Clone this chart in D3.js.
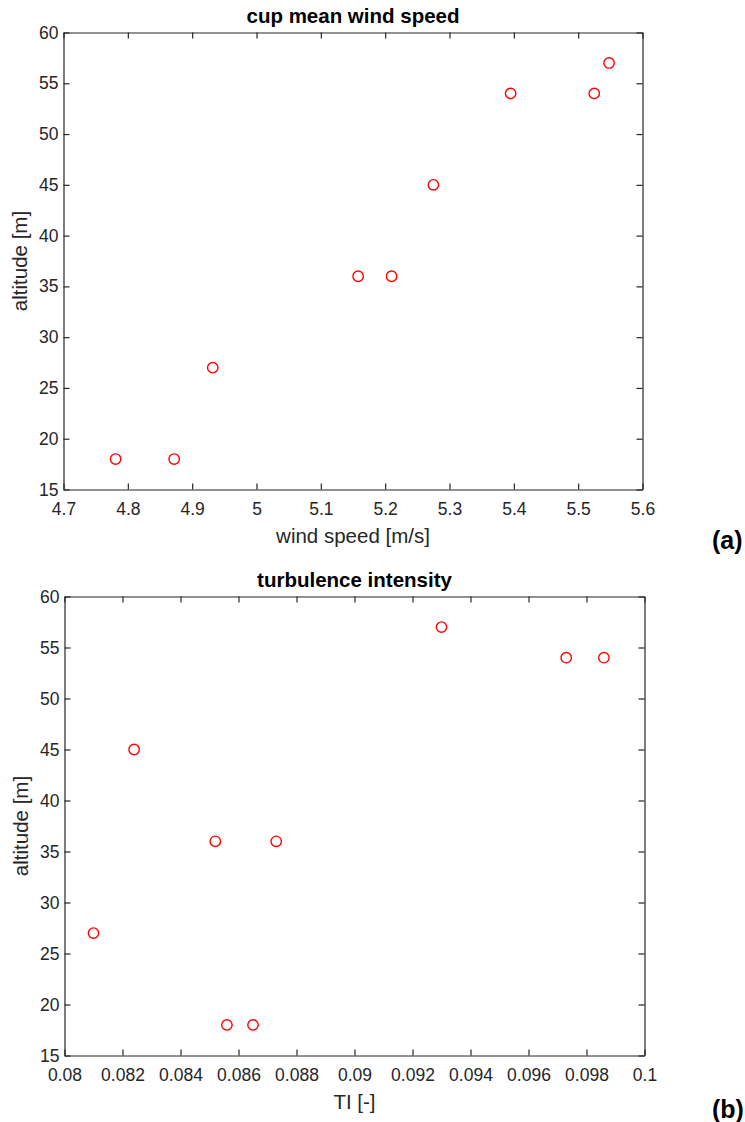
<!DOCTYPE html>
<html>
<head>
<meta charset="utf-8">
<script src="https://cdn.jsdelivr.net/npm/d3@7"></script>
<style>
  html, body { margin: 0; padding: 0; background: #fff; }
  svg { display: block; }
  text { font-family: "Liberation Sans", Arial, Helvetica, sans-serif; fill: #262626; }
</style>
</head>
<body>
<svg id="chart" width="745" height="1122"></svg>
<script>
// ---- data ----
const windSpeed = [4.781, 4.872, 4.932, 5.158, 5.210, 5.275, 5.395, 5.525, 5.548];
const altitudeA = [18, 18, 27, 36, 36, 45, 54, 54, 57];

const turbIntensity = [0.0810, 0.0824, 0.0852, 0.0873, 0.0856, 0.0865, 0.0930, 0.0973, 0.0986];
const altitudeB = [27, 45, 36, 36, 18, 18, 57, 54, 54];

const ticksWind = [4.7, 4.8, 4.9, 5, 5.1, 5.2, 5.3, 5.4, 5.5, 5.6];
const ticksWindLabels = ["4.7", "4.8", "4.9", "5", "5.1", "5.2", "5.3", "5.4", "5.5", "5.6"];
const ticksTI = [0.08, 0.082, 0.084, 0.086, 0.088, 0.09, 0.092, 0.094, 0.096, 0.098, 0.1];
const ticksTILabels = ["0.08", "0.082", "0.084", "0.086", "0.088", "0.09", "0.092", "0.094", "0.096", "0.098", "0.1"];
const ticksAlt = [15, 20, 25, 30, 35, 40, 45, 50, 55, 60];
const ticksAltLabels = ["15", "20", "25", "30", "35", "40", "45", "50", "55", "60"];

const panels = [
  {
    title: "cup mean wind speed", xlabel: "wind speed [m/s]", ylabel: "altitude [m]", tag: "(a)",
    xs: windSpeed, ys: altitudeA, xdom: [4.7, 5.6], ydom: [15, 60],
    xt: ticksWind, xtl: ticksWindLabels, yt: ticksAlt, ytl: ticksAltLabels,
    box: { left: 63.5, right: 642.5, top: 32.5, bottom: 489.5 }
  },
  {
    title: "turbulence intensity", xlabel: "TI [-]", ylabel: "altitude [m]", tag: "(b)",
    xs: turbIntensity, ys: altitudeB, xdom: [0.08, 0.1], ydom: [15, 60],
    xt: ticksTI, xtl: ticksTILabels, yt: ticksAlt, ytl: ticksAltLabels,
    box: { left: 64.5, right: 644.5, top: 596.5, bottom: 1055.5 }
  }
];

const svg = d3.select("#chart");
svg.append("rect").attr("width", 745).attr("height", 1122).attr("fill", "#fff");

const axisColor = "#262626";
const tickLen = 6;

panels.forEach(p => {
  const b = p.box;
  const x = d3.scaleLinear().domain(p.xdom).range([b.left, b.right]);
  const y = d3.scaleLinear().domain(p.ydom).range([b.bottom, b.top]);
  const g = svg.append("g");

  const xFmt = d => p.xtl[p.xt.indexOf(d)];
  const yFmt = d => p.ytl[p.yt.indexOf(d)];

  const ax = g.append("g").attr("transform", `translate(0,${b.bottom})`)
    .call(d3.axisBottom(x).tickValues(p.xt).tickFormat(xFmt).tickSizeInner(-tickLen).tickSizeOuter(0).tickPadding(13));
  const axT = g.append("g").attr("transform", `translate(0,${b.top})`)
    .call(d3.axisTop(x).tickValues(p.xt).tickFormat("").tickSizeInner(-tickLen).tickSizeOuter(0));
  const ay = g.append("g").attr("transform", `translate(${b.left},0)`)
    .call(d3.axisLeft(y).tickValues(p.yt).tickFormat(yFmt).tickSizeInner(-tickLen).tickSizeOuter(0).tickPadding(5));
  const ayR = g.append("g").attr("transform", `translate(${b.right},0)`)
    .call(d3.axisRight(y).tickValues(p.yt).tickFormat("").tickSizeInner(-tickLen).tickSizeOuter(0));

  [ax, axT, ay, ayR].forEach(a => {
    a.select(".domain").attr("stroke", axisColor).attr("stroke-width", 1.2);
    a.selectAll(".tick line").attr("stroke", axisColor).attr("stroke-width", 1.2);
    a.selectAll(".tick text").attr("fill", axisColor)
      .style("font-family", '"Liberation Sans", Arial, sans-serif').style("font-size", "17.5px");
  });

  g.append("g").selectAll("circle")
    .data(p.xs.map((v, i) => [v, p.ys[i]]))
    .join("circle")
    .attr("cx", d => x(d[0]))
    .attr("cy", d => y(d[1]))
    .attr("r", 5.2)
    .attr("fill", "none")
    .attr("stroke", "#ff0000")
    .attr("stroke-width", 1.4);

  const cx = (b.left + b.right) / 2;
  g.append("text").attr("x", cx).attr("y", b.top - 10)
    .attr("text-anchor", "middle").style("font-size", "20.5px").style("font-weight", "bold")
    .style("fill", "#000").text(p.title);
  g.append("text").attr("x", cx).attr("y", b.bottom + 53)
    .attr("text-anchor", "middle").style("font-size", "20.5px").text(p.xlabel);
  const ycen = (b.top + b.bottom) / 2;
  g.append("text").attr("transform", `translate(${b.left - 37},${ycen}) rotate(-90)`)
    .attr("text-anchor", "middle").style("font-size", "20.5px").text(p.ylabel);
  g.append("text").attr("x", 712).attr("y", b.bottom + (p.tag === "(a)" ? 59 : 62))
    .style("font-size", "25px").style("font-weight", "bold").style("fill", "#000").text(p.tag);
});
</script>
</body>
</html>
